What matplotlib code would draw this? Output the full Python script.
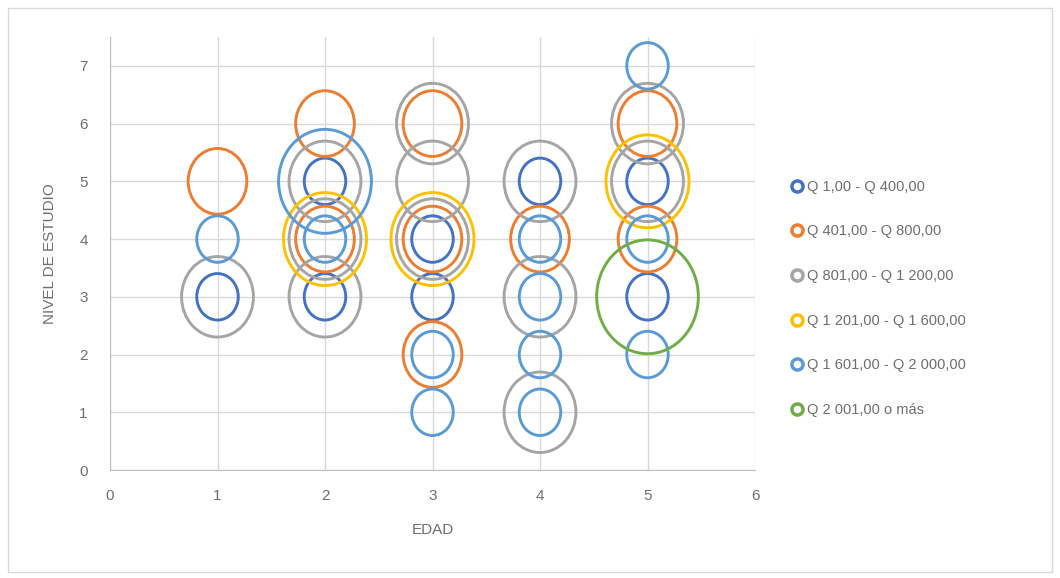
import matplotlib
matplotlib.use("Agg")
import matplotlib.pyplot as plt
from matplotlib.path import Path
from matplotlib.transforms import Affine2D
from matplotlib.lines import Line2D
from matplotlib.patches import Rectangle

plt.rcParams['font.family'] = ['Liberation Sans', 'DejaVu Sans']

# Income ranges (series), with position (EDAD, NIVEL DE ESTUDIO) and bubble value
labels = ["Q 1,00 - Q 400,00", "Q 401,00 - Q 800,00", "Q 801,00 - Q 1 200,00",
          "Q 1 201,00 - Q 1 600,00", "Q 1 601,00 - Q 2 000,00", "Q 2 001,00 o más"]
colors = ["#4472C4", "#ED7D31", "#A5A5A5", "#FFC000", "#5B9BD5", "#70AD47"]

s1_x = [1, 2, 2, 3, 3, 4, 5, 5]
s1_y = [3, 3, 5, 3, 4, 5, 3, 5]
s1_v = [1, 1, 1, 1, 1, 1, 1, 1]

s2_x = [1, 2, 2, 3, 3, 3, 4, 5, 5]
s2_y = [5, 6, 4, 6, 4, 2, 4, 6, 4]
s2_v = [2, 2, 2, 2, 2, 2, 2, 2, 2]

s3_x = [1, 2, 2, 2, 3, 3, 3, 4, 4, 4, 5, 5]
s3_y = [3, 5, 4, 3, 6, 5, 4, 5, 3, 1, 6, 5]
s3_v = [3, 3, 3, 3, 3, 3, 3, 3, 3, 3, 3, 3]

s4_x = [2, 3, 5]
s4_y = [4, 4, 5]
s4_v = [4, 4, 4]

s5_x = [1, 2, 2, 3, 3, 4, 4, 4, 4, 5, 5, 5]
s5_y = [4, 4, 5, 1, 2, 1, 2, 3, 4, 2, 4, 7]
s5_v = [1, 1, 5, 1, 1, 1, 1, 1, 1, 1, 1, 1]

s6_x = [5]
s6_y = [3]
s6_v = [6]

series = [(s1_x, s1_y, s1_v), (s2_x, s2_y, s2_v), (s3_x, s3_y, s3_v),
          (s4_x, s4_y, s4_v), (s5_x, s5_y, s5_v), (s6_x, s6_y, s6_v)]

x_ticks = [0, 1, 2, 3, 4, 5, 6]
y_ticks = [0, 1, 2, 3, 4, 5, 6, 7]

W, H = 1060, 578
TEXT = "#6E6E6E"
fig = plt.figure(figsize=(W / 100, H / 100), dpi=100)
fig.patch.set_facecolor("white")
fig.add_artist(Rectangle((8 / W, 6 / H), 1 - 16 / W, 1 - 14 / H, transform=fig.transFigure,
                         fill=False, edgecolor="#D9D9D9", linewidth=1))

ax = fig.add_axes([110 / W, (H - 470) / H, 645 / W, 433 / H])

# slightly tall ellipse used as bubble outline
ring = Path.unit_circle().transformed(Affine2D().scale(1.0, 1.12))
scale = 1120

for (xs, ys, vs), col in zip(series, colors):
    ax.scatter(xs, ys, s=[v * scale for v in vs], marker=ring, facecolors="none",
               edgecolors=col, linewidths=2.1, zorder=3)

ax.set_xlim(0, 6)
ax.set_ylim(0, 7.5)
ax.set_xticks(x_ticks)
ax.set_yticks(y_ticks)
ax.grid(True, color="#D9D9D9", linewidth=1)
ax.set_axisbelow(True)
for side in ("top", "right"):
    ax.spines[side].set_visible(False)
for side in ("left", "bottom"):
    ax.spines[side].set_color("#BFBFBF")
ax.tick_params(length=0, labelsize=11, colors=TEXT)
ax.tick_params(axis="x", pad=14)
ax.tick_params(axis="y", pad=16)

ax.set_xlabel("EDAD", fontsize=11, color=TEXT, labelpad=14)
ax.set_ylabel("NIVEL DE ESTUDIO", fontsize=11, color=TEXT, labelpad=16)

handles = [Line2D([], [], linestyle="none", marker="o", markersize=8, markerfacecolor="none",
                  markeredgecolor=c, markeredgewidth=2.5) for c in colors]
fig.legend(handles, labels, loc="upper left", bbox_to_anchor=(785 / W, 1 - 174 / H),
           frameon=False, fontsize=10.5, labelcolor=TEXT, handlelength=0.8,
           handletextpad=0.3, labelspacing=2.1, borderaxespad=0)

fig.savefig("out.png", dpi=100)
